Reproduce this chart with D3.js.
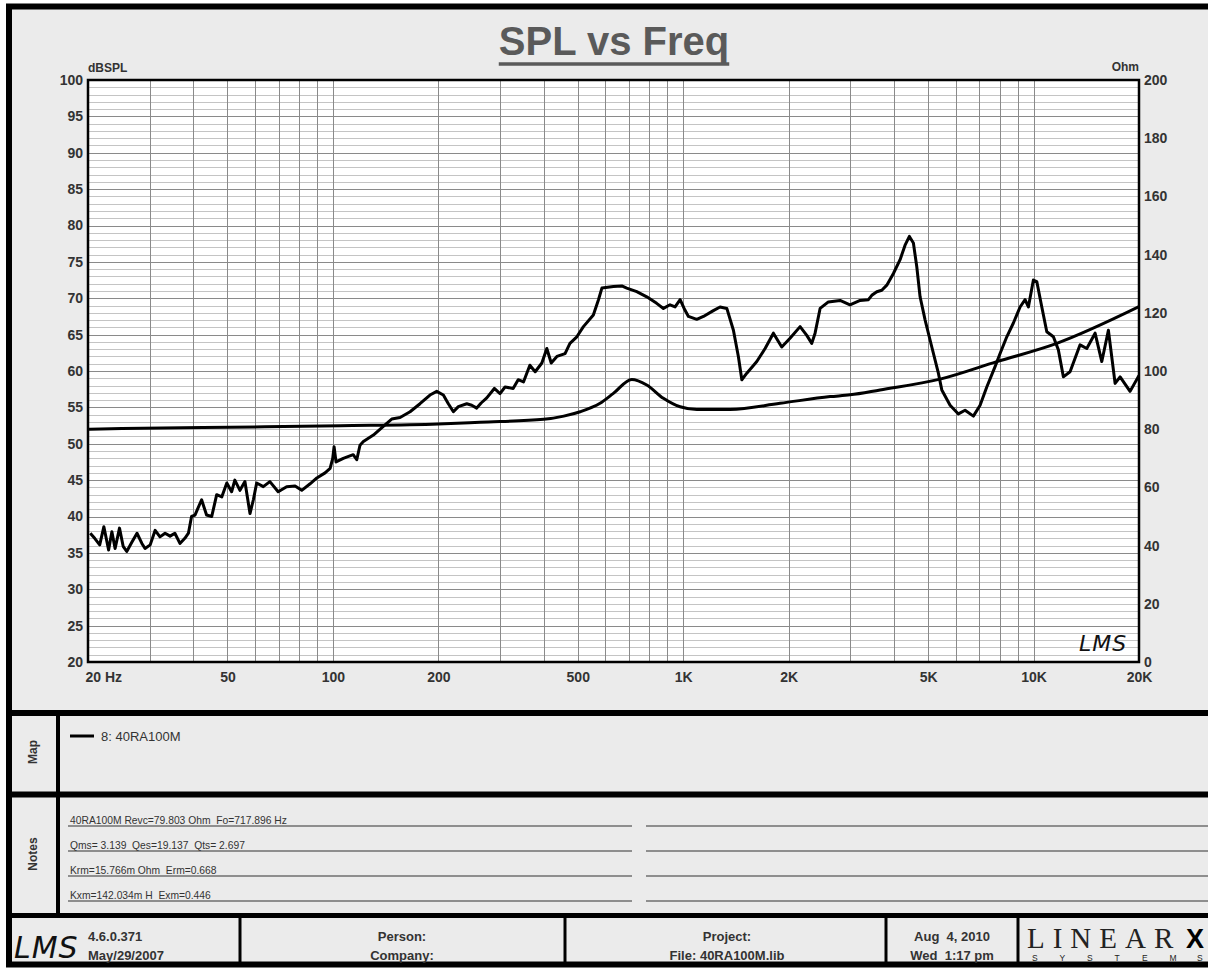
<!DOCTYPE html>
<html>
<head>
<meta charset="utf-8">
<script src="https://cdn.jsdelivr.net/npm/d3@7"></script>
<style>
  body { margin: 0; background: #fff; }
  svg text { font-family: Arial, "Liberation Sans", sans-serif; }
</style>
</head>
<body>
<svg id="chart"></svg>
<script>
// SPL curve (Hz, dBSPL)
const splFreq = [20.3, 20.9, 21.6, 22.2, 22.9, 23.4, 23.9, 24.6, 25.2, 25.8, 26.7, 27.6, 28.5, 29.1, 30.1, 31.1, 32.1, 33.2, 34.3, 35.4,
  36.6, 37.8, 38.7, 39.5, 40.4, 42.2, 43.6, 45.1, 46.6, 48.2, 49.8, 51.4, 52.5, 54.3, 56.1, 58.0, 59.3, 60.6, 63.3, 66.1,
  69.8, 73.8, 78.0, 81.5, 86.1, 90.0, 95.0, 98.2, 99.9, 100.8, 102.1, 107.1, 114.3, 117.0, 119.5, 122.2, 130.5, 139.3, 147.2, 155.5,
  166.1, 177.3, 189.3, 197.9, 206.7, 213.6, 220.8, 228.1, 241.1, 249.1, 257.4, 265, 275, 289, 300, 310, 327, 338, 350, 365,
  378, 395, 408, 420, 436, 460, 475, 497, 519, 554, 573, 586, 632, 668, 690, 737, 787, 840, 878, 917,
  948, 980, 1006, 1035, 1093, 1142, 1219, 1274, 1332, 1391, 1437, 1470, 1519, 1622, 1713, 1809, 1911, 2018, 2156, 2253,
  2328, 2379, 2459, 2596, 2804, 2993, 3199, 3378, 3454, 3570, 3689, 3812, 3981, 4160, 4298, 4422, 4540, 4643, 4744, 4904,
  5124, 5350, 5472, 5778, 6102, 6376, 6734, 7038, 7354, 7766, 8026, 8388, 8760, 9154, 9460, 9668, 9990, 10216, 10558, 10910,
  11394, 11774, 12166, 12714, 13578, 14190, 14986, 15662, 16356, 17092, 17664, 18860, 20000];
const splDb = [37.7, 37.0, 36.1, 38.6, 35.4, 37.9, 35.6, 38.4, 35.9, 35.2, 36.5, 37.7, 36.3, 35.6, 36.1, 38.1, 37.2, 37.7, 37.3, 37.7,
  36.3, 37.0, 37.7, 40.0, 40.2, 42.3, 40.2, 40.0, 43.0, 42.7, 44.6, 43.4, 45.0, 43.6, 44.8, 40.4, 42.3, 44.6, 44.1, 44.8,
  43.4, 44.1, 44.2, 43.6, 44.5, 45.3, 46.0, 46.6, 48.0, 49.6, 47.5, 48.0, 48.5, 47.8, 49.8, 50.3, 51.2, 52.4, 53.4, 53.6,
  54.4, 55.5, 56.7, 57.2, 56.7, 55.5, 54.4, 55.1, 55.5, 55.3, 54.9, 55.6, 56.3, 57.6, 56.9, 57.8, 57.6, 58.8, 58.5, 60.8,
  59.9, 61.1, 63.1, 61.1, 62.0, 62.4, 63.8, 64.7, 66.1, 67.7, 69.8, 71.4, 71.6, 71.7, 71.4, 70.9, 70.2, 69.3, 68.6, 69.1,
  68.8, 69.8, 68.6, 67.5, 67.1, 67.5, 68.3, 68.8, 68.6, 65.6, 62.0, 58.8, 59.7, 61.3, 63.1, 65.2, 63.3, 64.5, 66.1, 64.9,
  63.8, 65.2, 68.6, 69.5, 69.7, 69.1, 69.7, 69.8, 70.4, 70.9, 71.1, 71.8, 73.4, 75.3, 77.3, 78.5, 77.6, 74.3, 70.2, 67.0,
  63.3, 59.7, 57.4, 55.3, 54.1, 54.6, 53.8, 55.3, 57.8, 60.6, 62.4, 64.7, 66.6, 68.8, 69.8, 68.8, 72.5, 72.3, 68.8, 65.4,
  64.7, 62.9, 59.2, 59.9, 63.6, 63.1, 65.2, 61.3, 65.6, 58.3, 59.2, 57.2, 59.4];

// Impedance curve (Hz, Ohm)
const impFreq = [20, 25, 64, 105, 200, 263, 400, 456, 508, 579, 632, 713, 787, 878, 980, 1094, 1361, 1890, 2626, 2993, 3646, 5410, 7852, 11654, 20000];
const impOhm = [80.0, 80.2, 80.8, 81.2, 81.8, 82.4, 83.4, 84.5, 86.0, 88.9, 92.3, 97.1, 95.2, 90.6, 87.7, 86.8, 86.8, 88.9, 91.2, 91.8, 93.5, 97.2, 103.2, 109.5, 122.1];

const xTickFreqs = [20, 50, 100, 200, 500, 1000, 2000, 5000, 10000, 20000];
const xTickLabels = ["20 Hz", "50", "100", "200", "500", "1K", "2K", "5K", "10K", "20K"];
const dbTicks = [20, 25, 30, 35, 40, 45, 50, 55, 60, 65, 70, 75, 80, 85, 90, 95, 100];
const ohmTicks = [0, 20, 40, 60, 80, 100, 120, 140, 160, 180, 200];

const legendLabel = "8: 40RA100M";
const noteLines = [
  "40RA100M Revc=79.803 Ohm  Fo=717.896 Hz",
  "Qms= 3.139  Qes=19.137  Qts= 2.697",
  "Krm=15.766m Ohm  Erm=0.668",
  "Kxm=142.034m H  Exm=0.446"
];
const footerCells = [
  { cx: 402, lines: ["Person:", "Company:"] },
  { cx: 727, lines: ["Project:", "File: 40RA100M.lib"] },
  { cx: 952, lines: ["Aug  4, 2010", "Wed  1:17 pm"] }
];

const W = 1208, H = 970;
const plot = { left: 88, top: 80, right: 1139, bottom: 662 };

const svg = d3.select("#chart").attr("width", W).attr("height", H);

// frame background
svg.append("rect").attr("x", 9).attr("y", 6.5).attr("width", 1215).attr("height", 958)
  .attr("fill", "#ebebeb").attr("stroke", "#000").attr("stroke-width", 6);

// scales
const x = d3.scaleLog().domain([20, 20000]).range([plot.left, plot.right]);
const yDb = d3.scaleLinear().domain([20, 100]).range([plot.bottom, plot.top]);
const yOhm = d3.scaleLinear().domain([0, 200]).range([plot.bottom, plot.top]);

// plot area
svg.append("rect").attr("x", plot.left).attr("y", plot.top)
  .attr("width", plot.right - plot.left).attr("height", plot.bottom - plot.top).attr("fill", "#fff");

const grid = svg.append("g");
const dbGrid = yDb.ticks(80);
grid.selectAll(".hmin").data(dbGrid.filter(d => d % 5 !== 0)).enter().append("line")
  .attr("x1", plot.left).attr("x2", plot.right)
  .attr("y1", d => Math.round(yDb(d)) + 0.5).attr("y2", d => Math.round(yDb(d)) + 0.5)
  .attr("stroke", "#c4c4c4").attr("stroke-width", 1);
grid.selectAll(".hmaj").data(dbGrid.filter(d => d % 5 === 0)).enter().append("line")
  .attr("x1", plot.left).attr("x2", plot.right)
  .attr("y1", d => Math.round(yDb(d)) + 0.5).attr("y2", d => Math.round(yDb(d)) + 0.5)
  .attr("stroke", "#8a8a8a").attr("stroke-width", 1);
grid.selectAll(".v").data(x.ticks()).enter().append("line")
  .attr("x1", d => Math.round(x(d)) + 0.5).attr("x2", d => Math.round(x(d)) + 0.5)
  .attr("y1", plot.top).attr("y2", plot.bottom)
  .attr("stroke", "#8a8a8a").attr("stroke-width", 1);

// curves
svg.append("clipPath").attr("id", "clip").append("rect")
  .attr("x", plot.left).attr("y", plot.top)
  .attr("width", plot.right - plot.left).attr("height", plot.bottom - plot.top);

const impLine = d3.line().x(d => x(d[0])).y(d => yOhm(d[1])).curve(d3.curveMonotoneX);
const splLine = d3.line().x(d => x(d[0])).y(d => yDb(d[1]));

svg.append("path").datum(d3.zip(impFreq, impOhm)).attr("clip-path", "url(#clip)")
  .attr("d", impLine).attr("fill", "none").attr("stroke", "#000").attr("stroke-width", 3);
svg.append("path").datum(d3.zip(splFreq, splDb)).attr("clip-path", "url(#clip)")
  .attr("d", splLine).attr("fill", "none").attr("stroke", "#000").attr("stroke-width", 3)
  .attr("stroke-linejoin", "round");

// plot border
svg.append("rect").attr("x", plot.left).attr("y", plot.top)
  .attr("width", plot.right - plot.left).attr("height", plot.bottom - plot.top)
  .attr("fill", "none").attr("stroke", "#000").attr("stroke-width", 2.5);

// axes
function styleAxis(g) {
  g.select(".domain").remove();
  g.attr("font-family", null).attr("font-size", null);
  g.selectAll("text").attr("fill", "#333").style("font-size", "14px").style("font-weight", "bold");
}
svg.append("g").attr("transform", `translate(${plot.left},0)`)
  .call(d3.axisLeft(yDb).tickValues(dbTicks).tickSize(0).tickPadding(5)).call(styleAxis);
svg.append("g").attr("transform", `translate(${plot.right},0)`)
  .call(d3.axisRight(yOhm).tickValues(ohmTicks).tickSize(0).tickPadding(5)).call(styleAxis);
svg.append("g").attr("transform", `translate(0,${plot.bottom})`)
  .call(d3.axisBottom(x).tickValues(xTickFreqs).tickFormat((d, i) => xTickLabels[i]).tickSize(0).tickPadding(10))
  .call(styleAxis)
  .call(g => g.selectAll(".tick").filter(d => d === 20).select("text").attr("text-anchor", "start").attr("x", -3));

svg.append("text").attr("x", plot.left).attr("y", 72).text("dBSPL")
  .attr("fill", "#333").style("font-size", "12px").style("font-weight", "bold");
svg.append("text").attr("x", plot.right).attr("y", 71).attr("text-anchor", "end").text("Ohm")
  .attr("fill", "#333").style("font-size", "12px").style("font-weight", "bold");

// title
const title = svg.append("text").attr("x", 614).attr("y", 55).attr("text-anchor", "middle")
  .text("SPL vs Freq").attr("fill", "#5a5a5a").style("font-size", "40px").style("font-weight", "bold");
const tb = title.node().getBBox();
svg.append("line").attr("x1", tb.x).attr("x2", tb.x + tb.width).attr("y1", 64).attr("y2", 64)
  .attr("stroke", "#5a5a5a").attr("stroke-width", 3.5);

// LMS mark inside the plot
svg.append("text").attr("x", 1079).attr("y", 651).text("LMS")
  .attr("fill", "#111").style("font-family", "'DejaVu Sans', sans-serif").style("font-style", "italic")
  .style("font-size", "22px").style("letter-spacing", "1px");

// panel separators
svg.append("line").attr("x1", 6).attr("x2", 1215).attr("y1", 713).attr("y2", 713).attr("stroke", "#000").attr("stroke-width", 6);
svg.append("line").attr("x1", 6).attr("x2", 1215).attr("y1", 794.5).attr("y2", 794.5).attr("stroke", "#000").attr("stroke-width", 6);
svg.append("line").attr("x1", 6).attr("x2", 1215).attr("y1", 915.5).attr("y2", 915.5).attr("stroke", "#000").attr("stroke-width", 5);
svg.append("line").attr("x1", 58).attr("x2", 58).attr("y1", 713).attr("y2", 915).attr("stroke", "#000").attr("stroke-width", 4);

// side labels
svg.append("text").attr("transform", "translate(37,752) rotate(-90)").attr("text-anchor", "middle").text("Map")
  .attr("fill", "#333").style("font-size", "12px").style("font-weight", "bold");
svg.append("text").attr("transform", "translate(37,854) rotate(-90)").attr("text-anchor", "middle").text("Notes")
  .attr("fill", "#333").style("font-size", "12px").style("font-weight", "bold");

// legend
svg.append("line").attr("x1", 70).attr("x2", 94).attr("y1", 736).attr("y2", 736).attr("stroke", "#000").attr("stroke-width", 3);
svg.append("text").attr("x", 101).attr("y", 741).text(legendLabel).attr("fill", "#333").style("font-size", "13px");

// notes
const noteY = d3.scaleLinear().domain([0, 3]).range([826, 901]);
svg.selectAll(".noteRule").data(noteLines).enter().append("line")
  .attr("x1", 68).attr("x2", 632).attr("y1", (d, i) => noteY(i)).attr("y2", (d, i) => noteY(i))
  .attr("stroke", "#333").attr("stroke-width", 1.2);
svg.selectAll(".noteRule2").data(noteLines).enter().append("line")
  .attr("x1", 646).attr("x2", 1215).attr("y1", (d, i) => noteY(i)).attr("y2", (d, i) => noteY(i))
  .attr("stroke", "#333").attr("stroke-width", 1.2);
svg.selectAll(".note").data(noteLines).enter().append("text")
  .attr("x", 70).attr("y", (d, i) => noteY(i) - 2.5).text(d => d)
  .attr("fill", "#333").style("font-size", "10.3px").style("white-space", "pre");

// footer
[240, 565, 886, 1018].forEach(fx => {
  svg.append("line").attr("x1", fx).attr("x2", fx).attr("y1", 915).attr("y2", 964).attr("stroke", "#000").attr("stroke-width", 3);
});
svg.append("text").attr("x", 14).attr("y", 958).text("LMS")
  .attr("fill", "#111").style("font-family", "'DejaVu Sans', sans-serif").style("font-style", "italic")
  .style("font-size", "30px").style("letter-spacing", "1px");
svg.append("text").attr("x", 88).attr("y", 941).text("4.6.0.371")
  .attr("fill", "#333").style("font-size", "13px").style("font-weight", "bold");
svg.append("text").attr("x", 88).attr("y", 960).text("May/29/2007")
  .attr("fill", "#333").style("font-size", "13px").style("font-weight", "bold");
footerCells.forEach(c => {
  c.lines.forEach((t, i) => {
    svg.append("text").attr("x", c.cx).attr("y", 941 + i * 19).attr("text-anchor", "middle").text(t)
      .attr("fill", "#333").style("font-size", "13px").style("font-weight", "bold").style("white-space", "pre");
  });
});
svg.append("text").attr("x", 1027).attr("y", 948).text("LINEAR")
  .attr("fill", "#222").style("font-family", "'Liberation Serif', serif").style("font-size", "29px")
  .style("letter-spacing", "8px");
svg.append("text").attr("x", 1186).attr("y", 948).text("X")
  .attr("fill", "#000").style("font-size", "27px").style("font-weight", "bold");
svg.append("text").attr("x", d3.range(7).map(i => 1032 + i * 27.5).join(" ")).attr("y", 961).text("SYSTEMS")
  .attr("fill", "#222").style("font-size", "8.5px");
</script>
</body>
</html>
